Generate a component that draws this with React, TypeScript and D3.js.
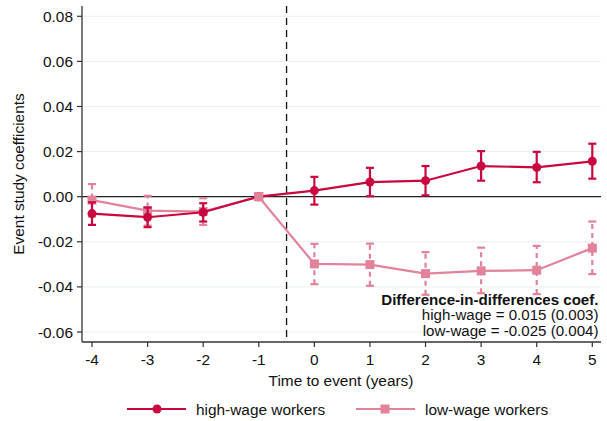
import React from "react";
import * as d3 from "d3";

const periods = [-4, -3, -2, -1, 0, 1, 2, 3, 4, 5];
const highCoef = [-0.0075, -0.0091, -0.0069, 0, 0.0027, 0.0065, 0.0071, 0.0136, 0.013, 0.0157];
const highLo = [-0.0125, -0.0135, -0.011, 0, -0.0035, 0.0002, 0.0006, 0.0071, 0.0064, 0.008];
const highHi = [-0.0025, -0.0048, -0.0029, 0, 0.0088, 0.0128, 0.0136, 0.0202, 0.0199, 0.0235];
const lowCoef = [-0.0015, -0.0062, -0.0066, 0, -0.0298, -0.0301, -0.0341, -0.0329, -0.0326, -0.0228];
const lowLo = [-0.0088, -0.0128, -0.0125, 0, -0.0388, -0.0395, -0.0435, -0.0428, -0.0432, -0.0343];
const lowHi = [0.0056, 0.0004, -0.0007, 0, -0.0209, -0.0208, -0.0246, -0.0226, -0.0218, -0.011];
const yTicks = [0.08, 0.06, 0.04, 0.02, 0, -0.02, -0.04, -0.06];
const legendLabels = ["high-wage workers", "low-wage workers"];
const noteLines = ["Difference-in-differences coef.", "high-wage = 0.015 (0.003)", "low-wage = -0.025 (0.004)"];

const RED = "#c8083f";
const PINK = "#e2829b";
const FONT = "'Liberation Sans', Arial, Helvetica, sans-serif";
const FS = 15.4;
const NFS = 15.1;

export default function App() {
  const W = 607, H = 421;
  const left = 82, right = 601, top = 6, bottom = 342;
  const x = d3.scaleLinear().domain([-4, 5]).range([92, 592.3]);
  const y = d3.scaleLinear().domain([0, 0.02]).range([196.7, 151.6]);
  const line = d3.line<number>().x((_, i) => x(periods[i])).y((d) => y(d));

  return (
    <svg width={W} height={H} style={{ position: "absolute", left: 0, top: 0, background: "#fff" }} fontFamily={FONT}>
      {yTicks.map((t) => (
        <line key={"g" + t} x1={left} x2={right} y1={y(t)} y2={y(t)} stroke="#e8f0f2" strokeWidth={1} />
      ))}
      <line x1={left} x2={right} y1={y(0)} y2={y(0)} stroke="#222" strokeWidth={1.3} />
      <line x1={x(-0.5)} x2={x(-0.5)} y1={top} y2={bottom} stroke="#111" strokeWidth={1.3} strokeDasharray="7,5" />
      <line x1={left} x2={left} y1={top} y2={bottom} stroke="#333" strokeWidth={1.3} />
      <line x1={left} x2={right} y1={bottom} y2={bottom} stroke="#333" strokeWidth={1.3} />
      {yTicks.map((t) => (
        <g key={"yt" + t}>
          <line x1={left - 5} x2={left} y1={y(t)} y2={y(t)} stroke="#333" strokeWidth={1.2} />
          <text x={left - 9} y={y(t)} dy="0.36em" textAnchor="end" fontSize={FS} fill="#111">
            {d3.format(".2f")(t).replace("−", "-")}
          </text>
        </g>
      ))}
      {periods.map((p) => (
        <g key={"xt" + p}>
          <line x1={x(p)} x2={x(p)} y1={bottom} y2={bottom + 5} stroke="#333" strokeWidth={1.2} />
          <text x={x(p)} y={bottom + 23} textAnchor="middle" fontSize={FS} fill="#111">
            {String(p)}
          </text>
        </g>
      ))}
      <text x={341} y={386} textAnchor="middle" fontSize={FS} fill="#111">Time to event (years)</text>
      <text transform={`translate(24,${(top + bottom) / 2}) rotate(-90)`} textAnchor="middle" fontSize={FS} fill="#111">
        Event study coefficients
      </text>

      <path d={line(lowCoef) || ""} fill="none" stroke={PINK} strokeWidth={2.2} />
      {periods.map((p, i) =>
        p === -1 ? null : (
          <g key={"le" + p} stroke={PINK} strokeWidth={2.2}>
            <line x1={x(p)} x2={x(p)} y1={y(lowLo[i])} y2={y(lowHi[i])} strokeDasharray="5,4" />
            <line x1={x(p) - 4} x2={x(p) + 4} y1={y(lowLo[i])} y2={y(lowLo[i])} />
            <line x1={x(p) - 4} x2={x(p) + 4} y1={y(lowHi[i])} y2={y(lowHi[i])} />
          </g>
        )
      )}
      {periods.map((p, i) => (
        <rect key={"lm" + p} x={x(p) - 4.5} y={y(lowCoef[i]) - 4.5} width={9} height={9} fill={PINK} />
      ))}

      <path d={line(highCoef) || ""} fill="none" stroke={RED} strokeWidth={2.2} />
      {periods.map((p, i) =>
        p === -1 ? null : (
          <g key={"he" + p} stroke={RED} strokeWidth={2.2}>
            <line x1={x(p)} x2={x(p)} y1={y(highLo[i])} y2={y(highHi[i])} />
            <line x1={x(p) - 4} x2={x(p) + 4} y1={y(highLo[i])} y2={y(highLo[i])} />
            <line x1={x(p) - 4} x2={x(p) + 4} y1={y(highHi[i])} y2={y(highHi[i])} />
          </g>
        )
      )}
      {periods.map((p, i) => (
        <circle key={"hm" + p} cx={x(p)} cy={y(highCoef[i])} r={4.5} fill={RED} />
      ))}
      <rect x={x(-1) - 4.5} y={y(0) - 4.5} width={9} height={9} fill={PINK} />

      <text x={598.5} y={304.5} textAnchor="end" fontSize={NFS} fontWeight="bold" fill="#111">{noteLines[0]}</text>
      <text x={598.5} y={320} textAnchor="end" fontSize={NFS} fill="#111">{noteLines[1]}</text>
      <text x={598.5} y={335.5} textAnchor="end" fontSize={NFS} fill="#111">{noteLines[2]}</text>

      <line x1={127} x2={186} y1={409} y2={409} stroke={RED} strokeWidth={2.2} />
      <circle cx={157} cy={409} r={4.5} fill={RED} />
      <text x={196} y={409} dy="0.36em" fontSize={FS} fill="#111">{legendLabels[0]}</text>
      <line x1={356} x2={415} y1={409} y2={409} stroke={PINK} strokeWidth={2.2} />
      <rect x={385 - 4.5} y={409 - 4.5} width={9} height={9} fill={PINK} />
      <text x={425} y={409} dy="0.36em" fontSize={FS} fill="#111">{legendLabels[1]}</text>
    </svg>
  );
}
